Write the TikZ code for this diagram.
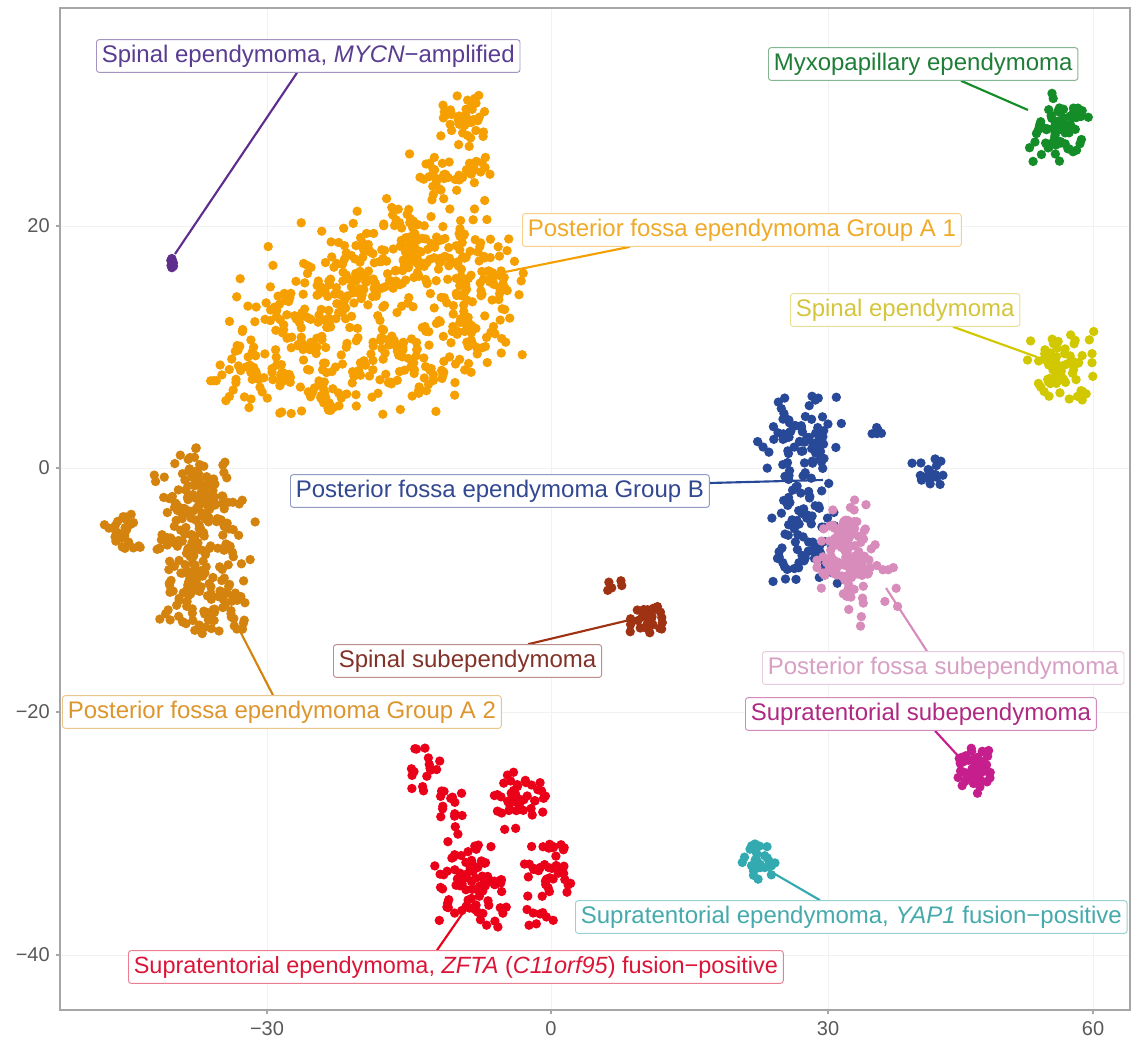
\documentclass[tikz,border=0pt]{standalone}
\usepackage{fontspec}
\setmainfont{Liberation Sans}
\usetikzlibrary{calc}
\definecolor{cMY}{RGB}{95,45,140}
\definecolor{tMY}{RGB}{90,60,145}
\definecolor{cMX}{RGB}{20,140,40}
\definecolor{tMX}{RGB}{30,125,55}
\definecolor{cA1}{RGB}{245,160,0}
\definecolor{tA1}{RGB}{240,170,40}
\definecolor{cA2}{RGB}{212,132,14}
\definecolor{tA2}{RGB}{220,150,45}
\definecolor{cB}{RGB}{40,72,152}
\definecolor{tB}{RGB}{50,72,145}
\definecolor{cPS}{RGB}{216,140,188}
\definecolor{tPS}{RGB}{215,160,196}
\definecolor{cTS}{RGB}{198,30,140}
\definecolor{tTS}{RGB}{175,40,130}
\definecolor{cSS}{RGB}{160,50,20}
\definecolor{tSS}{RGB}{130,50,40}
\definecolor{cR}{RGB}{235,0,25}
\definecolor{tR}{RGB}{220,20,55}
\definecolor{cY}{RGB}{50,170,175}
\definecolor{tY}{RGB}{70,170,172}
\definecolor{cS}{RGB}{210,200,0}
\definecolor{tS}{RGB}{212,198,60}
\pgfdeclarelayer{segs}
\pgfdeclarelayer{dots}
\pgfsetlayers{segs,dots,main}
\newcommand{\blob}[7]{%
  \pgfmathsetseed{#7}%
  \foreach \k in {1,...,#6}{%
    \pgfmathsetmacro{\bx}{#2+#4*(rand+rand)}%
    \pgfmathsetmacro{\by}{#3+#5*(rand+rand)}%
    \fill[#1] (\bx,\by) circle[radius=4.7];%
  }%
}
\tikzset{
  lab/.style={draw=#1!55, fill=white, text=#1, rounded corners=2pt, anchor=west,
    font=\fontsize{18}{20}\selectfont, inner xsep=4pt, inner ysep=0pt,
    minimum height=24.5pt, line width=0.7pt},
  seg/.style={draw=#1, line width=1.6pt},
  ticklab/.style={text=black!65, font=\fontsize{15}{16}\selectfont, inner sep=0pt},
  frame/.style={draw=black!35, line width=0.8pt},
  grid/.style={draw=black!5, line width=0.6pt},
}
\begin{document}
\begin{tikzpicture}[x=0.75pt,y=-0.75pt]
\useasboundingbox (0,0) rectangle (1132,1039);
\begin{pgfonlayer}{segs}
  \foreach \gx in {267,551,828,1093} \draw[grid] (\gx,9) -- (\gx,1009);
  \foreach \gy in {226,468,712,955} \draw[grid] (61,\gy) -- (1129,\gy);
  \draw[frame] (60,8) rectangle (1130,1010);
  \foreach \gx in {267,551,828,1093} \draw[frame] (\gx,1010) -- (\gx,1014);
  \foreach \gy in {226,468,712,955} \draw[frame] (56,\gy) -- (60,\gy);
\end{pgfonlayer}
% tick labels
\node[ticklab, anchor=east] (y20) at (50,226) {20};
\node[ticklab, anchor=east] (y0) at (50,468) {0};
\node[ticklab, anchor=east] (ym20) at (50,712) {−20};
\node[ticklab, anchor=east] (ym40) at (50,955) {−40};
\node[ticklab, anchor=base] (xm30) at (267,1035) {−30};
\node[ticklab, anchor=base] (x0) at (551,1035) {0};
\node[ticklab, anchor=base] (x30) at (828,1035) {30};
\node[ticklab, anchor=base] (x60) at (1093,1035) {60};
% labels
\node[lab=tMY] (lMY) at (96,56) {Spinal ependymoma, \textit{MYCN}−amplified};
\node[lab=tMX] (lMX) at (768,64) {Myxopapillary ependymoma};
\node[lab=tA1] (lA1) at (522,230) {Posterior fossa ependymoma Group A 1};
\node[lab=tS] (lS) at (790,310) {Spinal ependymoma};
\node[lab=tB] (lB) at (290,491) {Posterior fossa ependymoma Group B};
\node[lab=tSS] (lSS) at (333,661) {Spinal subependymoma};
\node[lab=tPS] (lPS) at (762,668) {Posterior fossa subependymoma};
\node[lab=tA2] (lA2) at (62,712) {Posterior fossa ependymoma Group A 2};
\node[lab=tTS] (lTS) at (745,714) {Supratentorial subependymoma};
\node[lab=tY] (lY) at (575,917) {Supratentorial ependymoma, \textit{YAP1} fusion−positive};
\node[lab=tR, font=\fontsize{17.6}{20}\selectfont] (lR) at (128,967) {Supratentorial ependymoma, \textit{ZFTA} (\textit{C11orf95}) fusion−positive};
% data anchor points
\coordinate (pMY) at (175,254);
\coordinate (pMX) at (1028,110);
\coordinate (pA1) at (505,272);
\coordinate (pS) at (1037,357);
\coordinate (pB) at (823,480);
\coordinate (pSS) at (638,618);
\coordinate (pPS) at (886,588);
\coordinate (pA2) at (225,602);
\coordinate (pTS) at (960,758);
\coordinate (pY) at (768,870);
\coordinate (pR) at (467,907);
\begin{pgfonlayer}{segs}
  \draw[seg=cMY] ($(lMY.south west)+(201,0)$) -- (pMY);
  \draw[seg=cMX] ($(lMX.south west)+(193,0)$) -- (pMX);
  \draw[seg=cA1] ($(lA1.south west)+(108,0)$) -- (pA1);
  \draw[seg=cS] ($(lS.south west)+(163,0)$) -- (pS);
  \draw[seg=cB] ($(lB.east)+(0,-8)$) -- (pB);
  \draw[seg=cPS] ($(lPS.north west)+(165,0)$) -- (pPS);
  \draw[seg=cTS] ($(lTS.south west)+(190,0)$) -- (pTS);
  \draw[seg=cSS] ($(lSS.north west)+(195,0)$) -- (pSS);
  \draw[seg=cA2] ($(lA2.north west)+(211,0)$) -- (pA2);
  \draw[seg=cY] ($(lY.north west)+(245,0)$) -- (pY);
  \draw[seg=cR] ($(lR.north west)+(309,0)$) -- (pR);
\end{pgfonlayer}
\begin{pgfonlayer}{dots}
  % MYCN
  \blob{cMY}{172}{261}{1.2}{5}{10}{11}
  % Myxopapillary
  \blob{cMX}{1058}{127}{16}{20}{70}{12}
  % Group A1
  \blob{cA1}{463}{118}{14}{16}{40}{21}
  \blob{cA1}{450}{178}{25}{16}{45}{22}
  \blob{cA1}{425}{250}{45}{28}{120}{23}
  \blob{cA1}{355}{275}{45}{28}{110}{24}
  \blob{cA1}{478}{300}{25}{33}{90}{25}
  \blob{cA1}{300}{330}{40}{30}{100}{26}
  \blob{cA1}{252}{375}{25}{18}{45}{27}
  \blob{cA1}{405}{360}{45}{28}{110}{28}
  \blob{cA1}{330}{398}{28}{10}{30}{29}
  % Group A2
  \blob{cA2}{195}{490}{22}{25}{75}{31}
  \blob{cA2}{200}{545}{24}{30}{110}{32}
  \blob{cA2}{205}{600}{24}{22}{75}{33}
  \blob{cA2}{122}{530}{10}{13}{25}{34}
  \blob{cA2}{190}{540}{40}{55}{25}{35}
  % Group B
  \blob{cB}{800}{440}{24}{27}{75}{41}
  \blob{cB}{810}{532}{20}{32}{85}{42}
  \blob{cB}{875}{425}{4}{9}{5}{43}
  \blob{cB}{930}{476}{11}{10}{20}{44}
  % PF subependymoma
  \blob{cPS}{848}{545}{14}{24}{80}{51}
  \blob{cPS}{860}{572}{25}{30}{50}{52}
  % ST subependymoma
  \blob{cTS}{972}{768}{10}{15}{50}{61}
  % Spinal subependymoma
  \blob{cSS}{647}{620}{11}{10}{28}{71}
  \blob{cSS}{615}{585}{6}{5}{5}{72}
  % ZFTA
  \blob{cR}{425}{768}{8}{14}{16}{81}
  \blob{cR}{452}{815}{11}{14}{16}{82}
  \blob{cR}{518}{800}{18}{18}{45}{83}
  \blob{cR}{472}{885}{20}{24}{85}{84}
  \blob{cR}{548}{870}{14}{18}{38}{85}
  \blob{cR}{538}{918}{10}{6}{8}{86}
  % YAP1
  \blob{cY}{758}{862}{9}{10}{28}{91}
  % Spinal ependymoma
  \blob{cS}{1060}{370}{18}{21}{65}{101}
\end{pgfonlayer}
\end{tikzpicture}
\end{document}
